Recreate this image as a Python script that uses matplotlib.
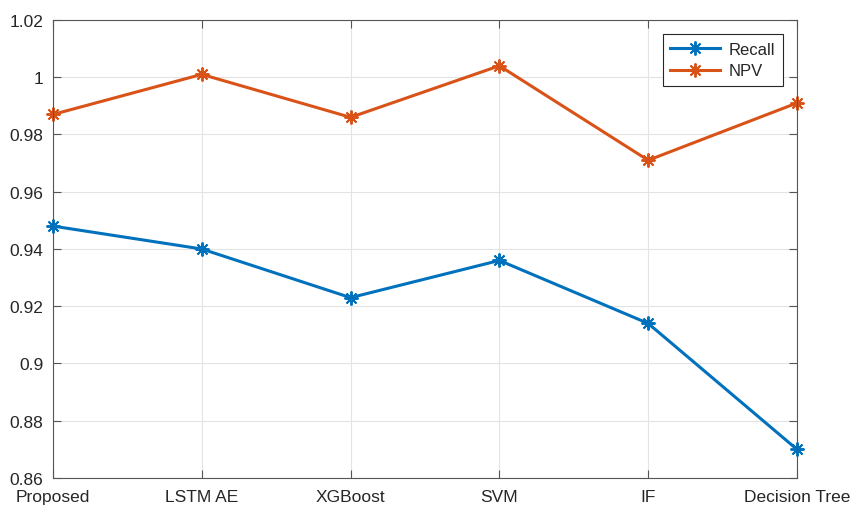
import matplotlib
matplotlib.use("Agg")
import matplotlib.pyplot as plt

# データ
models = ["Proposed", "LSTM AE", "XGBoost", "SVM", "IF", "Decision Tree"]
recall = [0.948, 0.940, 0.923, 0.936, 0.914, 0.870]
npv = [0.987, 1.001, 0.986, 1.004, 0.971, 0.991]
yticks = [0.86, 0.88, 0.9, 0.92, 0.94, 0.96, 0.98, 1, 1.02]
ytick_labels = ["0.86", "0.88", "0.9", "0.92", "0.94", "0.96", "0.98", "1", "1.02"]

plt.rcParams["font.family"] = ["Liberation Sans", "DejaVu Sans"]
text_color = "#262626"
axis_color = "#555555"

fig = plt.figure(figsize=(8.53, 5.06), dpi=100)
ax = fig.add_axes([0.0621, 0.0534, 0.8722, 0.9051])

x = list(range(len(models)))
ax.plot(x, recall, color="#0072BD", linewidth=2.2, marker=(8, 2, 0),
        markersize=10, markeredgewidth=1.4, label="Recall", clip_on=False)
ax.plot(x, npv, color="#D95319", linewidth=2.2, marker=(8, 2, 0),
        markersize=10, markeredgewidth=1.4, label="NPV", clip_on=False)

ax.set_xlim(0, len(models) - 1)
ax.set_ylim(0.86, 1.02)
ax.set_xticks(x)
ax.set_xticklabels(models)
ax.set_yticks(yticks)
ax.set_yticklabels(ytick_labels)

# グラフの装飾 (MATLAB風)
ax.grid(True, color="#e3e3e3", linewidth=0.8)
ax.set_axisbelow(True)
for s in ax.spines.values():
    s.set_color(axis_color)
    s.set_linewidth(0.8)
ax.tick_params(direction="in", length=6, width=0.8, color=axis_color,
               labelsize=12.5, labelcolor=text_color,
               top=True, right=True)
ax.tick_params(axis="x", pad=8)
ax.tick_params(axis="y", pad=7)

leg = ax.legend(loc="upper right", bbox_to_anchor=(0.981, 0.969),
                borderaxespad=0, fontsize=12, fancybox=False,
                edgecolor="#262626", handlelength=3.0, framealpha=1,
                handletextpad=0.5, borderpad=0.45, labelspacing=0.4)
leg.get_frame().set_linewidth(0.8)
for t in leg.get_texts():
    t.set_color(text_color)

fig.savefig("out.png", dpi=100)
